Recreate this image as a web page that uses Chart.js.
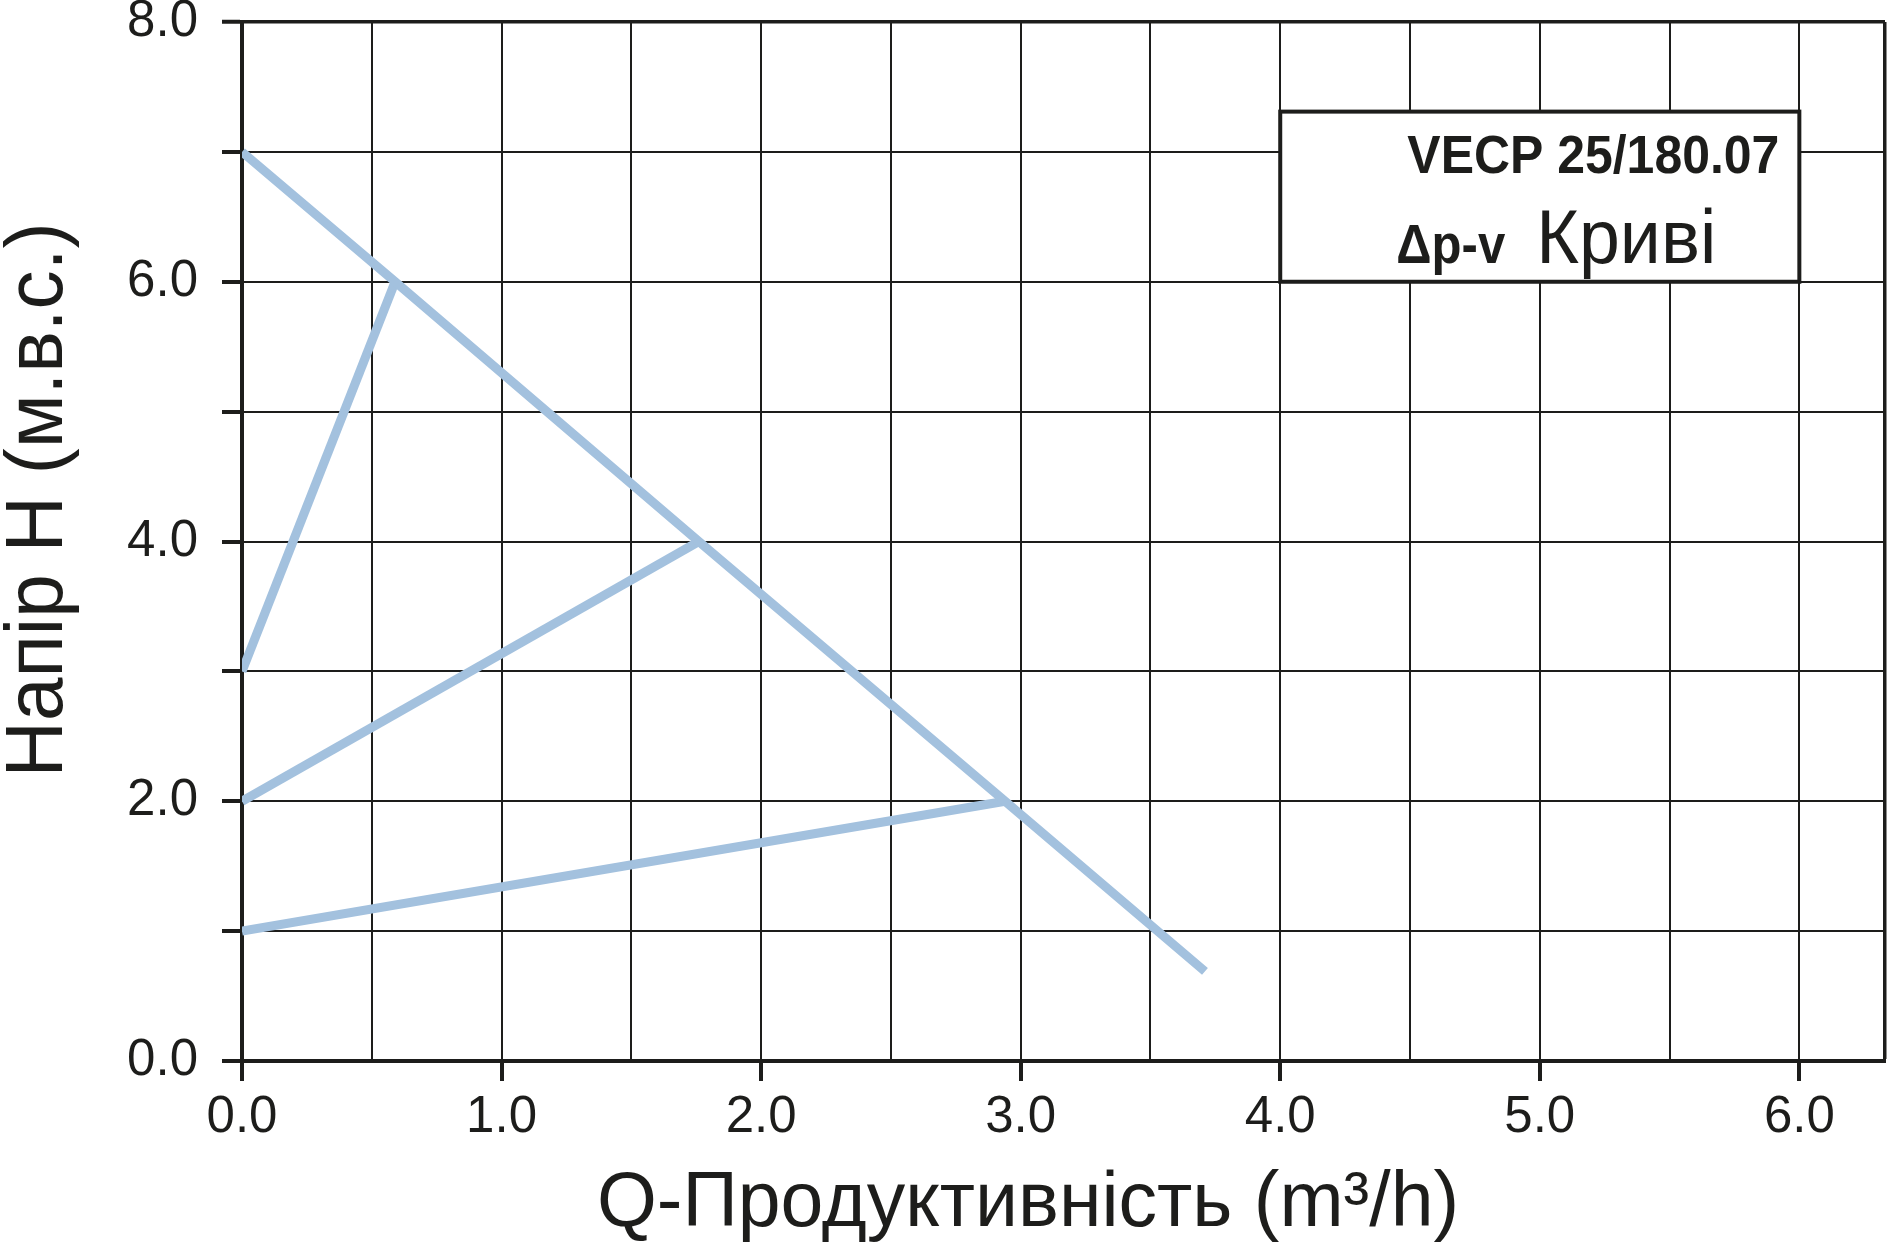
<!DOCTYPE html>
<html lang="uk">
<head>
    <meta charset="UTF-8">
    <title>VECP 25/180.07 Δp-v Криві</title>
    <style>
        html, body {
            margin: 0;
            padding: 0;
            background-color: #ffffff;
        }
        #chart {
            display: block;
        }
    </style>
</head>
<body>
    <canvas id="chart" width="1896" height="1245"></canvas>
    <script src="https://cdn.jsdelivr.net/npm/chart.js"></script>
    <script>
        // Δp-v curves: Q in m3/h, H in m
        const maxCurveQ = [0, 0.59, 1.76, 2.94, 3.71];
        const maxCurveH = [7.0, 6.0, 4.0, 2.0, 0.69];
        const curve6Q = [0, 0.59];
        const curve6H = [3.0, 6.0];
        const curve4Q = [0, 1.76];
        const curve4H = [2.0, 4.0];
        const curve2Q = [0, 2.94];
        const curve2H = [1.0, 2.0];

        // grid / tick values
        const xTicks = [0, 0.5, 1, 1.5, 2, 2.5, 3, 3.5, 4, 4.5, 5, 5.5, 6];
        const yTicks = [0, 1, 2, 3, 4, 5, 6, 7, 8];
        const xMax = 6.33;
        const yMax = 8;

        const xTitle = 'Q-Продуктивність (m³/h)';
        const yTitle = 'Напір Н (м.в.с.)';
        const boxLine1 = 'VECP 25/180.07';
        const boxLine2a = 'Δp-v';
        const boxLine2b = 'Криві';

        const FONT = '"Liberation Sans", Arial, Helvetica, sans-serif';
        const INK = '#1d1d1b';
        const CURVE = '#a3c1de';

        Chart.defaults.font.family = FONT;

        function toPoints(qs, hs) {
            return qs.map((q, i) => ({ x: q, y: hs[i] }));
        }

        function curve(qs, hs) {
            return {
                data: toPoints(qs, hs),
                showLine: true,
                borderColor: CURVE,
                backgroundColor: CURVE,
                borderWidth: 9,
                borderCapStyle: 'butt',
                borderJoinStyle: 'miter',
                pointRadius: 0,
                tension: 0
            };
        }

        // legend box and axis titles
        const decor = {
            id: 'decor',
            afterDatasetsDraw(chart) {
                const ctx = chart.ctx;
                const x = chart.scales.x;
                const y = chart.scales.y;

                const left = x.getPixelForValue(4.0);
                const right = x.getPixelForValue(6.0);
                const top = y.getPixelForValue(7.31);
                const bottom = y.getPixelForValue(6.0);

                ctx.save();
                ctx.fillStyle = '#ffffff';
                ctx.fillRect(left, top, right - left, bottom - top);
                ctx.strokeStyle = INK;
                ctx.lineWidth = 4;
                ctx.strokeRect(left, top, right - left, bottom - top);

                ctx.fillStyle = INK;
                ctx.textBaseline = 'alphabetic';
                ctx.textAlign = 'right';
                ctx.font = 'bold 53px ' + FONT;
                ctx.fillText(boxLine1, right - 20, top + 61, 372);

                ctx.textAlign = 'left';
                ctx.font = 'bold 56px ' + FONT;
                ctx.fillText(boxLine2a, left + 116, top + 151, 109);
                ctx.font = '76px ' + FONT;
                ctx.fillText(boxLine2b, left + 256, top + 151, 180);

                // x title
                ctx.textAlign = 'center';
                ctx.font = '77px ' + FONT;
                ctx.fillText(xTitle, 1028, 1226, 864);

                // y title
                ctx.font = '82px ' + FONT;
                ctx.translate(62, 500);
                ctx.rotate(-Math.PI / 2);
                ctx.fillText(yTitle, 0, 0, 555);
                ctx.restore();
            }
        };

        new Chart(document.getElementById('chart'), {
            type: 'scatter',
            data: {
                datasets: [
                    curve(maxCurveQ, maxCurveH),
                    curve(curve6Q, curve6H),
                    curve(curve4Q, curve4H),
                    curve(curve2Q, curve2H)
                ]
            },
            options: {
                responsive: false,
                animation: false,
                devicePixelRatio: 1,
                layout: {
                    padding: { top: 22, right: 11, left: 0, bottom: 0 }
                },
                plugins: {
                    legend: { display: false },
                    tooltip: { enabled: false }
                },
                scales: {
                    x: {
                        type: 'linear',
                        min: 0,
                        max: xMax,
                        afterBuildTicks: s => {
                            s.ticks = xTicks.concat([xMax]).map(v => ({ value: v }));
                        },
                        afterFit: s => {
                            s.height = 184;
                            s.paddingLeft = 0;
                            s.paddingRight = 0;
                        },
                        border: { color: INK, width: 4 },
                        grid: {
                            color: INK,
                            lineWidth: c => (c.tick && c.tick.value === xMax ? 3.5 : 2),
                            tickLength: 20,
                            tickWidth: 4,
                            tickColor: c => (c.tick && Number.isInteger(c.tick.value) ? INK : 'rgba(0,0,0,0)')
                        },
                        ticks: {
                            callback: v => (Number.isInteger(v) ? v.toFixed(1) : ''),
                            color: INK,
                            font: { size: 51, lineHeight: 0.85 },
                            padding: 15,
                            maxRotation: 0,
                            autoSkip: false
                        }
                    },
                    y: {
                        type: 'linear',
                        min: 0,
                        max: yMax,
                        afterBuildTicks: s => {
                            s.ticks = yTicks.map(v => ({ value: v }));
                        },
                        afterFit: s => {
                            s.width = 242;
                            s.paddingTop = 0;
                            s.paddingBottom = 0;
                        },
                        border: { color: INK, width: 4 },
                        grid: {
                            color: INK,
                            lineWidth: c => (c.tick && c.tick.value === yMax ? 3.5 : 2),
                            tickLength: 20,
                            tickWidth: 4,
                            tickColor: INK
                        },
                        ticks: {
                            callback: v => (v % 2 === 0 ? v.toFixed(1) : ''),
                            color: INK,
                            font: { size: 51, lineHeight: 0.86 },
                            padding: 24,
                            autoSkip: false
                        }
                    }
                }
            },
            plugins: [decor]
        });
    </script>
</body>
</html>
